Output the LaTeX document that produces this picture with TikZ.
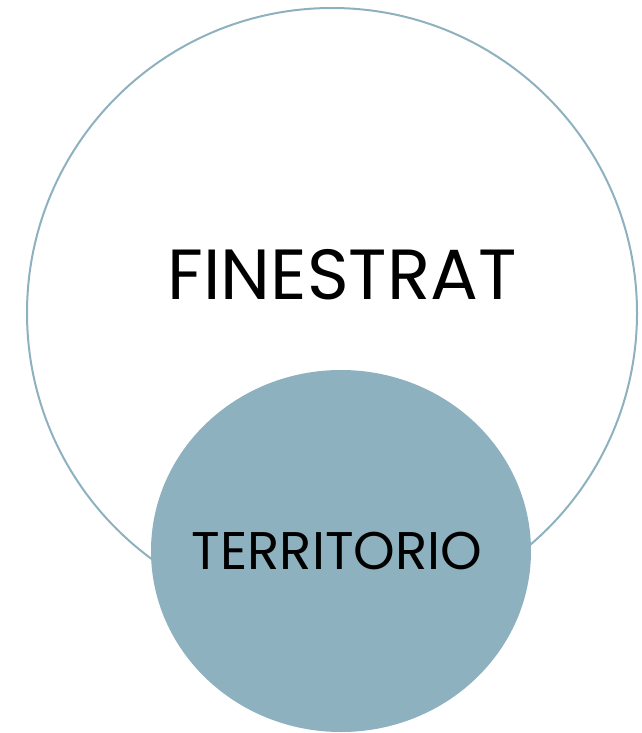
\documentclass[tikz,border=0pt]{standalone}
\usepackage{fontspec}
\usetikzlibrary{shapes.geometric}
\setmainfont{Poppins}
\definecolor{teal}{HTML}{8DB1BE}
\begin{document}
\begin{tikzpicture}[x=1pt,y=-1pt,
  bigc/.style={draw=teal,line width=2pt,circle,minimum size=610pt,inner sep=0pt},
  smallc/.style={fill=teal,ellipse,minimum width=380pt,minimum height=362pt,inner sep=0pt}]
\useasboundingbox (0,0) rectangle (641,733);
\node[bigc] (big) at (332,313) {};
\node[smallc] (small) at (341,551) {};
\node[font=\fontsize{71}{78}\selectfont] (t1) at (342,275) {FINESTRAT};
\node[font=\fontsize{53}{60}\selectfont] (t2) at (337,551) {TERRITORIO};
\end{tikzpicture}
\end{document}
